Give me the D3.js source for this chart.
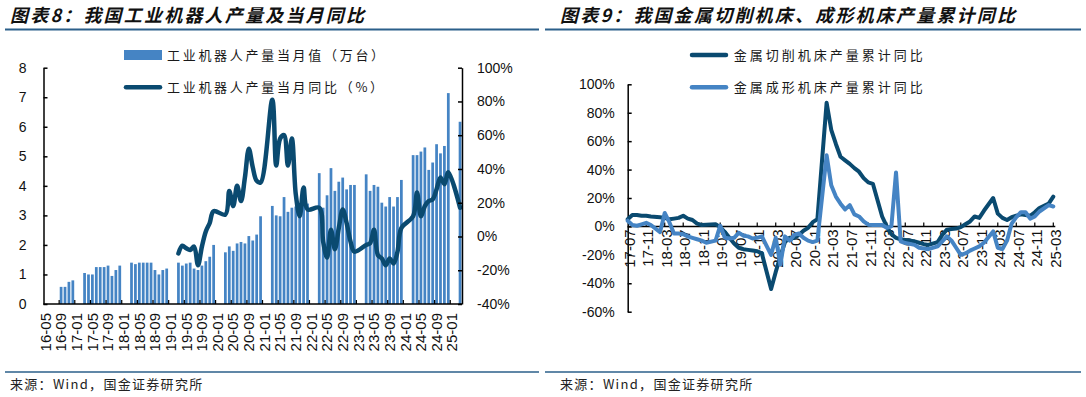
<!DOCTYPE html>
<html>
<head>
<meta charset="utf-8">
<script src="https://cdn.jsdelivr.net/npm/d3@7"></script>
<style>
  body { margin: 0; background: #fff; }
  svg { display: block; }
</style>
</head>
<body>
<script>
const width = 1086, height = 397;

function monthList(a, b) {
  const p = s => new Date(Date.UTC(+s.slice(0, 4), +s.slice(5, 7) - 1, 1));
  return d3.utcMonths(p(a), d3.utcMonth.offset(p(b), 1)).map(d3.utcFormat("%y-%m"));
}

// ---- chart 8: industrial robots ----
const robotMonths = monthList("2016-05", "2025-03");
const robotYoYMonths = monthList("2019-03", "2025-03");

// monthly output, 10k units (Jan/Feb not published)
const robotOutput = [
  null, null, null, null, 0.58, 0.58, 0.75, 0.80,                      // 2016-05..12
  null, null, 1.05, 1.00, 1.00, 1.25, 1.25, 1.25, 1.30, 0.95, 1.15, 1.30, // 2017
  null, null, 1.40, 1.35, 1.40, 1.40, 1.40, 1.40, 1.15, 1.00, 1.15, 1.20, // 2018
  null, null, 1.40, 1.30, 1.37, 1.40, 1.20, 1.15, 1.30, 1.45, 1.60, 2.00, // 2019
  null, null, 1.75, 1.95, 1.80, 2.05, 2.10, 2.05, 2.30, 2.15, 2.35, 2.97, // 2020
  null, null, 3.32, 3.00, 2.97, 3.62, 3.12, 3.26, 3.30, 3.35, 3.50, 3.40, // 2021
  null, null, 4.43, 3.26, 3.68, 4.60, 3.83, 4.14, 4.28, 3.88, 4.03, 4.03, // 2022
  null, null, 4.39, 3.83, 4.03, 3.97, 3.43, 3.30, 3.62, 3.30, 3.62, 4.20, // 2023
  null, null, 5.04, 5.04, 5.16, 5.30, 4.54, 4.79, 5.41, 5.10, 5.35, 7.14, // 2024
  null, null, 6.17                                                       // 2025
];

// monthly yoy, %
const robotYoY = [
  -10, -5.5, -7, -8, -6, -17, -6, 3, 8, 15,        // 2019-03..12
  null, null, 13, 27, 18, 30, 21, 35, 52, 41, 33, 32, // 2020
  null, null, 81, 42, 58, 60, 42, 58, 25, 12, 29, 16, // 2021
  null, null, 17, -3, -12.5, 4, -7.5, 5, 16, 8, -3, -9, // 2022
  null, null, -5, -4, 4, -11, -13, -17, -13, -16, -9, 5, // 2023
  null, null, 12, 26, 12, 18, 21, 22, 28, 35, 31, 38, // 2024
  null, null, 17                                     // 2025
];

const robotLeftTicks = d3.range(0, 9);
const robotRightTicks = d3.range(-40, 101, 20);

// ---- chart 9: machine tools, cumulative yoy % ----
const toolMonths = monthList("2017-07", "2025-03");

const cuttingYoY = [
  5, 8, 8, 7.5, 7.5, 7,                                   // 2017-07..12
  null, 6.5, 6, 5, 5.5, 6, 7.5, 5.5, 4.5, 2, 1, 1.2,      // 2018
  null, 1.5, -0.5, -4, -8, -12, -15, -16, -16.5, -17, -17.5, -19, // 2019
  null, -44, -32, -21, -11, -8, -8, -6, -3, -1, 3, 5,     // 2020
  null, 87, 68, 58, 49, 46.5, 44, 41, 38.5, 34, 31, 30,   // 2021
  null, 7, 0, -5.5, -8, -9, -9.5, -10, -10.5, -11.5, -12.5, -13, // 2022
  null, -11, -6, -2.3, -1.8, -1.5, -0.5, 1.5, 3.5, 7, 6, 11, // 2023
  null, 20, 9, 6, 4.5, 6.5, 7.5, 8.5, 8, 7.5, 10, 13,     // 2024
  null, 16, 21                                            // 2025
];

const formingYoY = [
  4, 1, 0.5, 1.5, 2.5, 1,                                 // 2017-07..12
  null, -4, 9.5, 3, -5, -5, -5.5, -7, -8, -9, -10, -11.5, // 2018
  null, -10, 0.5, -8, -8.5, -8, -4.5, -6.5, -7, -8.5, -8, -7, // 2019
  null, -20, -8, -27, -7, -10, -6, -5, -8, -10, -11, -10, // 2020
  null, 50, 29, 21, 16, 12, 15, 8.5, 7, 3.5, 1.2, 1,      // 2021
  null, 1, -1, 0, 38, -10.5, -11.7, -12.3, -13, -15, -15.5, -16, // 2022
  null, -14, -10.5, -7, -10, -15, -20, -19, -17, -15.5, -14, -11.5, // 2023
  null, -3.5, -15, -16, -10, 2, 6.5, 10, 10, 5.5, 7, 10.5, // 2024
  null, 15, 14                                            // 2025
];

const toolTicks = d3.range(-60, 101, 20);

// ---- styles ----
const darkLine = "#0a4a70";
const lightBlue = "#4584c4";
const ruleColor = "#2b5f8a";
const numFont = "'Liberation Sans', Arial, sans-serif";
const cjkFont = "'Noto Sans CJK SC', sans-serif";

const svg = d3.select("body").append("svg")
  .attr("width", width)
  .attr("height", height)
  .attr("viewBox", `0 0 ${width} ${height}`);

// titles, rules, sources
const panels = [
  {x0: 5, x1: 539, tx: 10, title: "图表8：我国工业机器人产量及当月同比"},
  {x0: 545, x1: 1081, tx: 560, title: "图表9：我国金属切削机床、成形机床产量累计同比"}
];
panels.forEach(p => {
  svg.append("text")
    .attr("x", p.tx).attr("y", 22)
    .attr("font-family", cjkFont)
    .attr("font-size", 18)
    .attr("font-weight", 700)
    .attr("font-style", "italic")
    .attr("letter-spacing", 2.2)
    .attr("fill", "#111")
    .text(p.title);
  svg.append("line")
    .attr("x1", p.x0).attr("x2", p.x1)
    .attr("y1", 29.5).attr("y2", 29.5)
    .attr("stroke", ruleColor).attr("stroke-width", 2);
  svg.append("line")
    .attr("x1", p.x0).attr("x2", p.x1)
    .attr("y1", 372).attr("y2", 372)
    .attr("stroke", ruleColor).attr("stroke-width", 1.5);
  svg.append("text")
    .attr("x", p.tx).attr("y", 389)
    .attr("font-family", cjkFont)
    .attr("font-size", 13)
    .attr("letter-spacing", 1.3)
    .attr("fill", "#222")
    .text("来源：Wind，国金证券研究所");
});

function styleAxis(g, size) {
  g.attr("font-family", numFont).attr("font-size", size);
  g.selectAll(".domain").attr("stroke", "#000").attr("stroke-width", 1.5);
  g.selectAll(".tick line").attr("stroke", "#000").attr("stroke-width", 1.5);
  g.selectAll(".tick text").attr("fill", "#111");
}

// ================= chart 8 =================
{
  const top = 67.7, bottom = 304, left = 43.5, right = 462;
  const x = d3.scaleBand(robotMonths, [left, right]).paddingInner(0.3).paddingOuter(0.15);
  const y = d3.scaleLinear([0, 8], [bottom, top]);
  const y2 = d3.scaleLinear([-40, 100], [bottom, top]);
  const gap = (x.step() - x.bandwidth()) / 2;

  // bars
  svg.append("g")
    .selectAll("rect")
    .data(robotMonths.map((m, i) => ({m, v: robotOutput[i]})).filter(d => d.v != null))
    .join("rect")
    .attr("x", d => x(d.m))
    .attr("width", x.bandwidth())
    .attr("y", d => y(d.v))
    .attr("height", d => y(0) - y(d.v))
    .attr("fill", lightBlue);

  // yoy line
  const pts = robotYoYMonths.map((m, i) => ({m, v: robotYoY[i]})).filter(d => d.v != null);
  svg.append("path")
    .datum(pts)
    .attr("fill", "none")
    .attr("stroke", darkLine)
    .attr("stroke-width", 4.5)
    .attr("stroke-linejoin", "round")
    .attr("stroke-linecap", "round")
    .attr("d", d3.line()
      .x(d => x(d.m) + x.bandwidth() / 2)
      .y(d => y2(d.v))
      .curve(d3.curveCatmullRom.alpha(0.5)));

  // left axis
  svg.append("g")
    .attr("transform", `translate(${left},0)`)
    .call(d3.axisLeft(y).tickValues(robotLeftTicks).tickSize(-4).tickSizeOuter(0).tickPadding(17))
    .call(g => styleAxis(g, 14));

  // right axis
  svg.append("g")
    .attr("transform", `translate(${right},0)`)
    .call(d3.axisRight(y2).tickValues(robotRightTicks).tickFormat(d => d + "%")
      .tickSize(-4).tickSizeOuter(0).tickPadding(15))
    .call(g => styleAxis(g, 14));

  // category axis
  const xa = svg.append("g");
  xa.append("line")
    .attr("x1", left).attr("x2", right)
    .attr("y1", bottom).attr("y2", bottom)
    .attr("stroke", "#000").attr("stroke-width", 1.5);
  const labelled = robotMonths.filter((m, i) => i % 4 === 0);
  xa.selectAll("line.tk")
    .data(labelled.slice(1))
    .join("line")
    .attr("class", "tk")
    .attr("x1", d => x(d) - gap).attr("x2", d => x(d) - gap)
    .attr("y1", bottom).attr("y2", bottom - 4)
    .attr("stroke", "#000").attr("stroke-width", 1.2);
  xa.selectAll("text")
    .data(labelled)
    .join("text")
    .attr("transform", d => `translate(${x(d) + x.bandwidth() / 2},${bottom + 9}) rotate(-90)`)
    .attr("dy", "0.35em")
    .attr("text-anchor", "end")
    .attr("font-family", numFont)
    .attr("font-size", 15)
    .attr("fill", "#111")
    .text(d => d);

  // legend
  const lg = svg.append("g")
    .attr("font-family", cjkFont)
    .attr("font-size", 13)
    .attr("letter-spacing", 2.7)
    .attr("fill", "#1a1a1a");
  lg.append("rect").attr("x", 124).attr("y", 50).attr("width", 38).attr("height", 10).attr("fill", lightBlue);
  lg.append("text").attr("x", 167).attr("y", 55).attr("dy", "0.35em").text("工业机器人产量当月值（万台）");
  lg.append("line").attr("x1", 126).attr("x2", 160).attr("y1", 87.3).attr("y2", 87.3)
    .attr("stroke", darkLine).attr("stroke-width", 4.5).attr("stroke-linecap", "round");
  lg.append("text").attr("x", 167).attr("y", 87.3).attr("dy", "0.35em").text("工业机器人产量当月同比（%）");
}

// ================= chart 9 =================
{
  const top = 84.3, bottom = 311.7, left = 627.7, right = 1053.3;
  const x = d3.scalePoint(toolMonths, [left, right]);
  const y = d3.scaleLinear([-60, 100], [bottom, top]);
  const y0 = y(0);

  svg.append("g")
    .attr("transform", `translate(${left},0)`)
    .call(d3.axisLeft(y).tickValues(toolTicks).tickFormat(d => d + "%")
      .tickSize(-4).tickSizeOuter(0).tickPadding(13))
    .call(g => styleAxis(g, 14));

  const xa = svg.append("g");
  xa.append("line")
    .attr("x1", left).attr("x2", right + 2)
    .attr("y1", y0).attr("y2", y0)
    .attr("stroke", "#000").attr("stroke-width", 1.5);
  const labelled = toolMonths.filter((m, i) => i % 4 === 0);
  xa.selectAll("line.tk")
    .data(labelled.slice(1))
    .join("line")
    .attr("class", "tk")
    .attr("x1", d => x(d)).attr("x2", d => x(d))
    .attr("y1", y0).attr("y2", y0 - 4)
    .attr("stroke", "#000").attr("stroke-width", 1.2);
  xa.selectAll("text")
    .data(labelled)
    .join("text")
    .attr("transform", d => `translate(${x(d) + 2},${y0 + 3}) rotate(-90)`)
    .attr("dy", "0.35em")
    .attr("text-anchor", "end")
    .attr("font-family", numFont)
    .attr("font-size", 15)
    .attr("fill", "#111")
    .text(d => d);

  const series = [
    {values: cuttingYoY, color: darkLine},
    {values: formingYoY, color: lightBlue}
  ];
  series.forEach(s => {
    const pts = toolMonths.map((m, i) => ({m, v: s.values[i]})).filter(d => d.v != null);
    svg.append("path")
      .datum(pts)
      .attr("fill", "none")
      .attr("stroke", s.color)
      .attr("stroke-width", 4)
      .attr("stroke-linejoin", "round")
      .attr("stroke-linecap", "round")
      .attr("d", d3.line().x(d => x(d.m)).y(d => y(d.v)));
  });

  const lg = svg.append("g")
    .attr("font-family", cjkFont)
    .attr("font-size", 13)
    .attr("letter-spacing", 3)
    .attr("fill", "#1a1a1a");
  const names = ["金属切削机床产量累计同比", "金属成形机床产量累计同比"];
  names.forEach((n, i) => {
    const ly = 55 + i * 32.3;
    lg.append("line").attr("x1", 692).attr("x2", 726).attr("y1", ly).attr("y2", ly)
      .attr("stroke", series[i].color).attr("stroke-width", 4.5).attr("stroke-linecap", "round");
    lg.append("text").attr("x", 733.7).attr("y", ly).attr("dy", "0.35em").text(n);
  });
}
</script>
</body>
</html>
